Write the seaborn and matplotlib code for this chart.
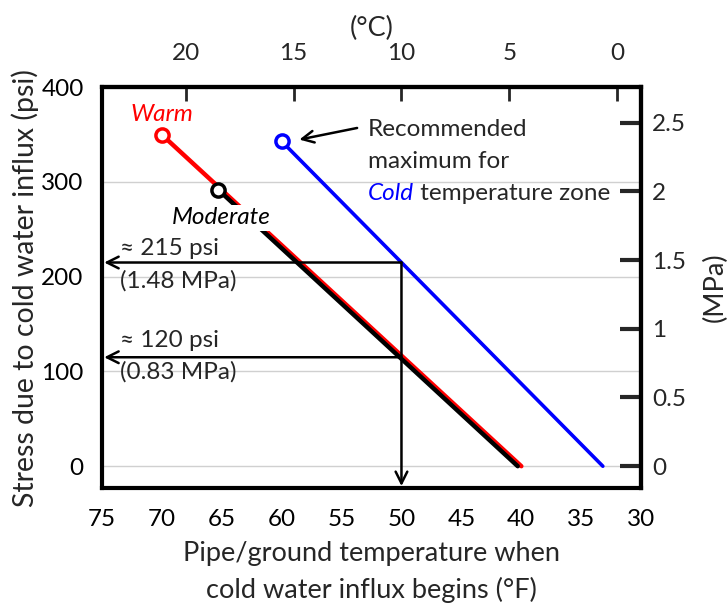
import matplotlib
matplotlib.use("Agg")
import matplotlib.pyplot as plt
import matplotlib.ticker as mticker
import seaborn as sns
import pandas as pd

# ---- data ----
series = ["Warm", "Moderate", "Cold"]
warm_f = [70, 40]
warm_psi = [350, 0]
moderate_f = [65.3, 40.3]
moderate_psi = [292, 0]
cold_f = [60, 33.2]
cold_psi = [343, 0]
x_ticks_f = [75, 70, 65, 60, 55, 50, 45, 40, 35, 30]
y_ticks_psi = [0, 100, 200, 300, 400]
top_ticks_c = [20, 15, 10, 5, 0]
right_ticks_mpa = [0, 0.5, 1, 1.5, 2, 2.5]
cold_at_50 = 215
warm_at_50 = 115

sns.set_theme(style="white")
plt.rcParams["font.family"] = ["Lato", "DejaVu Sans"]

TICK = 17.5
LAB = 19.5
ANN = 17.5

df = pd.DataFrame({
    "F": warm_f + moderate_f + cold_f,
    "psi": warm_psi + moderate_psi + cold_psi,
    "zone": ["Warm"] * 2 + ["Moderate"] * 2 + ["Cold"] * 2,
})
starts = pd.DataFrame({
    "F": [warm_f[0], moderate_f[0], cold_f[0]],
    "psi": [warm_psi[0], moderate_psi[0], cold_psi[0]],
    "zone": ["Warm", "Moderate", "Cold"],
})
palette = {"Warm": "#ff0000", "Moderate": "#000000", "Cold": "#0000ff"}

fig = plt.figure(figsize=(7.27, 6.10), dpi=100)
ax = fig.add_axes([0.140, 0.200, 0.742, 0.657])

for ax_y in y_ticks_psi[:-1]:
    ax.axhline(ax_y, color="#d0d0d0", lw=1, zorder=0)

sns.lineplot(data=df[df.zone == "Warm"], x="F", y="psi", color=palette["Warm"], lw=3.2, ax=ax, zorder=3, legend=False)
sns.lineplot(data=df[df.zone == "Moderate"], x="F", y="psi", color=palette["Moderate"], lw=3.2, ax=ax, zorder=4, legend=False)
sns.lineplot(data=df[df.zone == "Cold"], x="F", y="psi", color=palette["Cold"], lw=2.6, ax=ax, zorder=3, legend=False)
for z in series:
    s = starts[starts.zone == z]
    ax.scatter(s.F, s.psi, s=90, facecolors="white", edgecolors=palette[z], linewidths=2.5, zorder=5)

ax.set_xlim(75, 30)
ax.set_ylim(-23, 400)
ax.set_xticks(x_ticks_f)
ax.set_yticks(y_ticks_psi)
ax.set_xlabel("Pipe/ground temperature when\ncold water influx begins (°F)", fontsize=LAB, labelpad=8, linespacing=1.5)
ax.set_ylabel("Stress due to cold water influx (psi)", fontsize=20.5, labelpad=2)
ax.tick_params(axis="x", direction="in", length=12, width=2, labelsize=TICK, pad=15, colors="black")
ax.tick_params(axis="y", direction="in", length=15, width=3, labelsize=TICK, pad=13, colors="black")
for sp in ax.spines.values():
    sp.set_linewidth(3)
    sp.set_color("black")

top = ax.secondary_xaxis("top", functions=(lambda f: (f - 32) * 5 / 9, lambda c: c * 9 / 5 + 32))
top.set_xticks(top_ticks_c)
top.set_xlabel("(°C)", fontsize=LAB, labelpad=5)
top.tick_params(direction="in", length=10, width=2, labelsize=TICK, pad=17)

right = ax.secondary_yaxis("right", functions=(lambda p: p / 145.04, lambda m: m * 145.04))
right.set_yticks(right_ticks_mpa)
right.yaxis.set_major_formatter(mticker.FormatStrFormatter("%g"))
right.set_ylabel("(MPa)", fontsize=LAB, labelpad=12)
right.tick_params(direction="in", length=15, width=3, labelsize=TICK, pad=8)
for sp in list(top.spines.values()) + list(right.spines.values()):
    sp.set_linewidth(3)

# arrows
arr = dict(arrowstyle="->,head_length=0.7,head_width=0.35", color="black", lw=1.8, shrinkA=0, shrinkB=0)
ax.annotate("", xy=(74.8, cold_at_50), xytext=(50, cold_at_50), arrowprops=arr, zorder=6)
ax.annotate("", xy=(74.8, warm_at_50), xytext=(50, warm_at_50), arrowprops=arr, zorder=6)
ax.annotate("", xy=(50, -21), xytext=(50, cold_at_50), arrowprops=arr, zorder=6)

ax.text(73.5, 230, "≈ 215 psi", fontsize=ANN, va="center", ha="left")
ax.text(73.5, 196, "(1.48 MPa)", fontsize=ANN, va="center", ha="left")
ax.text(73.5, 133, "≈ 120 psi", fontsize=ANN, va="center", ha="left")
ax.text(73.5, 100, "(0.83 MPa)", fontsize=ANN, va="center", ha="left")

ax.text(70, 371, "Warm", color=palette["Warm"], fontsize=ANN, style="italic", ha="center", va="center")
ax.text(65, 262, "Moderate", color="black", fontsize=ANN, style="italic", ha="center", va="center",
        bbox=dict(facecolor="white", edgecolor="none", pad=2), zorder=7)

ax.annotate("", xy=(59.2, 343), xytext=(53.7, 357),
            arrowprops=dict(arrowstyle="->,head_length=0.7,head_width=0.35", color="black", lw=1.8,
                            shrinkA=0, shrinkB=6), zorder=6)
ax.text(52.8, 355, "Recommended", fontsize=ANN, va="center", ha="left")
ax.text(52.8, 322, "maximum for", fontsize=ANN, va="center", ha="left")
t = ax.text(52.8, 288, "Cold", fontsize=ANN, va="center", ha="left", color=palette["Cold"], style="italic")
ax.annotate(" temperature zone", xycoords=t, xy=(1, 0), va="bottom", ha="left", fontsize=ANN)

fig.savefig("out.png", dpi=100)
